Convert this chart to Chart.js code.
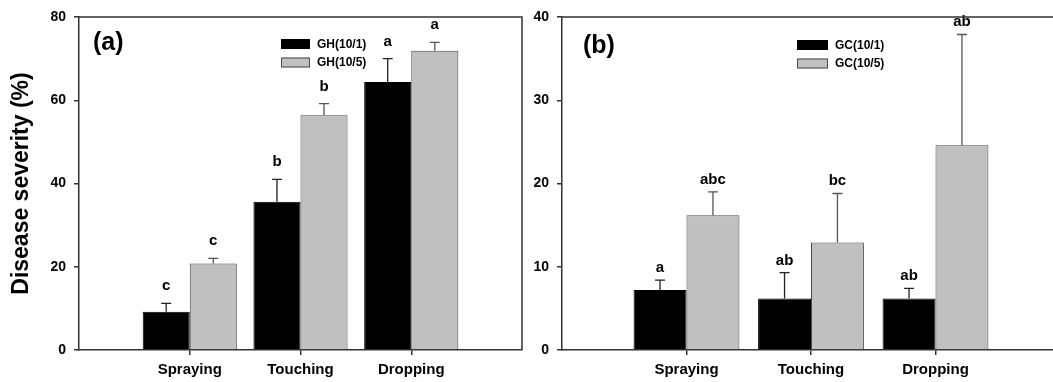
<!DOCTYPE html>
<html>
<head>
<meta charset="utf-8">
<script src="https://cdn.jsdelivr.net/npm/chart.js@4"></script>
<style>
html,body{margin:0;padding:0;background:#fff;overflow:hidden;width:1053px;height:382px;}
canvas{position:absolute;top:0;}
#chartA{left:0;}
#chartB{left:524px;}
</style>
</head>
<body>
<canvas id="chartA" width="528" height="382"></canvas>
<canvas id="chartB" width="542" height="382"></canvas>
<script>
var categories = ['Spraying', 'Touching', 'Dropping'];

// panel (a)
var ghLabels = ['GH(10/1)', 'GH(10/5)'];
var gh1 = [9.2, 35.6, 64.4];
var gh1Err = [2.0, 5.4, 5.6];
var gh1Letters = ['c', 'b', 'a'];
var gh5 = [20.8, 56.4, 71.9];
var gh5Err = [1.2, 2.8, 2.0];
var gh5Letters = ['c', 'b', 'a'];
var ticksA = [0, 20, 40, 60, 80];

// panel (b)
var gcLabels = ['GC(10/1)', 'GC(10/5)'];
var gc1 = [7.2, 6.2, 6.2];
var gc1Err = [1.2, 3.1, 1.2];
var gc1Letters = ['a', 'ab', 'ab'];
var gc5 = [16.2, 12.9, 24.6];
var gc5Err = [2.8, 5.9, 13.3];
var gc5Letters = ['abc', 'bc', 'ab'];
var ticksB = [0, 10, 20, 30, 40];

var FONT = '"Liberation Sans", Arial, Helvetica, sans-serif';
var AXIS = '#333';

// pad with empty slots so the categories sit at 1,2,3 on a 0..4 axis
function pad(arr, fill){
    return [fill].concat(arr).concat([fill]);
}

// error bars (upward only) plus the significance letters
var errorBarPlugin = {
    id: 'errorBars',
    afterDatasetsDraw: function(chart, args, opts){
        var ctx = chart.ctx;
        var yScale = chart.scales.y;
        chart.data.datasets.forEach(function(ds, i){
            var meta = chart.getDatasetMeta(i);
            meta.data.forEach(function(bar, j){
                var v = ds.data[j];
                if(v === null || v === undefined){
                    return;
                }
                var top = yScale.getPixelForValue(v + ds.errors[j]);
                ctx.save();
                ctx.strokeStyle = ds.errorColor;
                ctx.lineWidth = 1.3;
                ctx.beginPath();
                ctx.moveTo(bar.x, bar.y);
                ctx.lineTo(bar.x, top);
                ctx.moveTo(bar.x - 5, top);
                ctx.lineTo(bar.x + 5, top);
                ctx.stroke();
                ctx.fillStyle = '#000';
                ctx.font = 'bold 15px ' + FONT;
                ctx.textAlign = 'center';
                ctx.textBaseline = 'alphabetic';
                ctx.fillText(ds.letters[j], bar.x, top - opts.letterGap);
                ctx.restore();
            });
        });
    }
};

// top and right border of the plot box, legend, panel tag
var framePlugin = {
    id: 'frame',
    afterDraw: function(chart, args, opts){
        var ctx = chart.ctx;
        var a = chart.chartArea;
        ctx.save();
        ctx.strokeStyle = AXIS;
        ctx.lineWidth = 1.5;
        ctx.beginPath();
        ctx.moveTo(a.left, a.top);
        ctx.lineTo(a.right, a.top);
        ctx.lineTo(a.right, a.bottom);
        ctx.stroke();

        // panel tag
        ctx.fillStyle = '#000';
        ctx.font = 'bold 25px ' + FONT;
        ctx.textAlign = 'left';
        ctx.textBaseline = 'middle';
        ctx.fillText(opts.tag, a.left + opts.tagX, opts.tagY);

        // legend
        ctx.font = 'bold 12px ' + FONT;
        chart.data.datasets.forEach(function(ds, i){
            var x = a.left + opts.legendX;
            var y = opts.legendY + i * 18.5;
            ctx.fillStyle = ds.backgroundColor;
            ctx.fillRect(x, y, opts.swatchW, 10);
            ctx.strokeStyle = ds.borderColor;
            ctx.lineWidth = 1;
            ctx.strokeRect(x + 0.5, y + 0.5, opts.swatchW - 1, 9);
            ctx.fillStyle = '#000';
            ctx.fillText(ds.label, x + opts.swatchW + 7, y + 5.5);
        });
        ctx.restore();
    }
};

function makeChart(canvasId, labels, s1, e1, l1, s2, e2, l2, yTicks, cfg){
    return new Chart(document.getElementById(canvasId), {
        type: 'bar',
        data: {
            labels: pad(categories, ''),
            datasets: [
                {
                    label: labels[0],
                    data: pad(s1, null),
                    errors: pad(e1, 0),
                    letters: pad(l1, ''),
                    errorColor: '#222',
                    backgroundColor: '#000000',
                    borderColor: '#000000',
                    borderWidth: 1
                },
                {
                    label: labels[1],
                    data: pad(s2, null),
                    errors: pad(e2, 0),
                    letters: pad(l2, ''),
                    errorColor: '#555',
                    backgroundColor: '#c0c0c0',
                    borderColor: '#4a4a4a',
                    borderWidth: 1
                }
            ]
        },
        options: {
            responsive: false,
            animation: false,
            devicePixelRatio: 1,
            categoryPercentage: 0.85,
            barPercentage: 1,
            layout: { padding: { top: 17, right: 2, left: 0, bottom: 0 } },
            plugins: {
                legend: { display: false },
                tooltip: { enabled: false },
                errorBars: { letterGap: cfg.letterGap },
                frame: cfg.frame
            },
            scales: {
                x: {
                    offset: false,
                    afterFit: function(s){ s.height = 32; },
                    grid: {
                        offset: false,
                        drawOnChartArea: false,
                        drawTicks: true,
                        tickLength: 5,
                        lineWidth: 1.5,
                        color: function(c){
                            return (c.index === 0 || c.index === categories.length + 1) ? 'rgba(0,0,0,0)' : AXIS;
                        }
                    },
                    border: { display: true, color: AXIS, width: 1.5 },
                    ticks: {
                        color: '#000',
                        padding: 6,
                        maxRotation: 0,
                        autoSkip: false,
                        font: { family: FONT, size: 15, weight: 'bold' }
                    }
                },
                y: {
                    min: yTicks[0],
                    max: yTicks[yTicks.length - 1],
                    afterFit: function(s){ s.width = cfg.yWidth; },
                    grid: {
                        drawOnChartArea: false,
                        drawTicks: true,
                        tickLength: 5,
                        lineWidth: 1.5,
                        color: AXIS
                    },
                    border: { display: true, color: AXIS, width: 1.5 },
                    ticks: {
                        stepSize: yTicks[1] - yTicks[0],
                        color: '#000',
                        padding: 8,
                        font: { family: FONT, size: 14, weight: 'bold' }
                    },
                    title: {
                        display: cfg.yTitle !== '',
                        text: cfg.yTitle,
                        color: '#000',
                        padding: { top: 8, bottom: 0 },
                        font: { family: FONT, size: 23, weight: 'bold' }
                    }
                }
            }
        },
        plugins: [errorBarPlugin, framePlugin]
    });
}

makeChart('chartA', ghLabels, gh1, gh1Err, gh1Letters, gh5, gh5Err, gh5Letters, ticksA, {
    yWidth: 79,
    yTitle: 'Disease severity (%)',
    letterGap: 13,
    frame: { tag: '(a)', tagX: 14, tagY: 43, legendX: 202, legendY: 39, swatchW: 29 }
});

makeChart('chartB', gcLabels, gc1, gc1Err, gc1Letters, gc5, gc5Err, gc5Letters, ticksB, {
    yWidth: 38,
    yTitle: '',
    letterGap: 8,
    frame: { tag: '(b)', tagX: 21, tagY: 46, legendX: 235, legendY: 40, swatchW: 31 }
});
</script>
</body>
</html>
